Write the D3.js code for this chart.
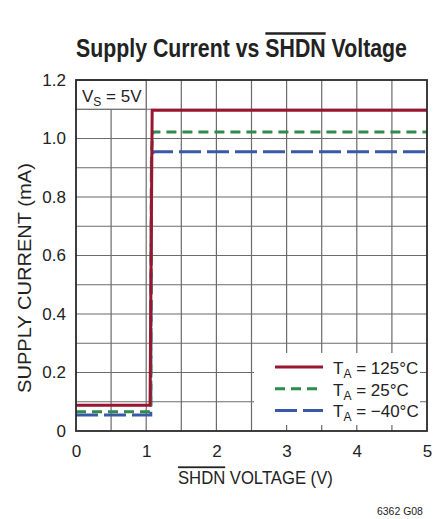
<!DOCTYPE html>
<html>
<head>
<meta charset="utf-8">
<script src="https://cdn.jsdelivr.net/npm/d3@7"></script>
<style>
  body { margin: 0; background: #fff; }
  svg text { font-family: "Liberation Sans", Arial, sans-serif; fill: #222; }
  .over { text-decoration: overline; }
</style>
</head>
<body>
<svg id="chart" width="438" height="519"></svg>
<script>
// data
var hotVolts  = [0, 1.055, 1.085, 5];
var hotAmps   = [0.088, 0.088, 1.097, 1.097];
var roomVolts = [0, 1.065, 1.075, 1.095, 5];
var roomAmps  = [0.066, 0.066, 0.95, 1.022, 1.022];
var coldVolts = [0, 1.065, 1.075, 1.1, 5];
var coldAmps  = [0.055, 0.055, 0.93, 0.955, 0.955];
var seriesNames = ["125°C", "25°C", "\u221240°C"];
var xTicks = [0, 1, 2, 3, 4, 5];
var yTicks = [0, 0.2, 0.4, 0.6, 0.8, 1.0, 1.2];

var svg = d3.select("#chart"),
    margin = {top: 80, right: 11, bottom: 88, left: 76},
    width = 438 - margin.left - margin.right,
    height = 519 - margin.top - margin.bottom,
    g = svg.append("g").attr("transform", "translate(" + margin.left + "," + margin.top + ")");

var x = d3.scaleLinear().domain([0, 5]).range([0, width]);
var y = d3.scaleLinear().domain([0, 1.2]).range([height, 0]);

// grid
g.append("g").selectAll("line").data(d3.range(1, 10).map(function(i) { return i * 0.5; }))
  .enter().append("line")
    .attr("x1", function(d) { return x(d); }).attr("x2", function(d) { return x(d); })
    .attr("y1", 0).attr("y2", height)
    .attr("stroke", "#6b6b6b").attr("stroke-width", 1.2);
g.append("g").selectAll("line").data(d3.range(1, 12).map(function(i) { return i * 0.1; }))
  .enter().append("line")
    .attr("y1", function(d) { return y(d); }).attr("y2", function(d) { return y(d); })
    .attr("x1", 0).attr("x2", width)
    .attr("stroke", "#6b6b6b").attr("stroke-width", 1.2);

// axes (labels only, grid does the rest)
var xAxis = g.append("g")
    .attr("transform", "translate(0," + height + ")")
    .call(d3.axisBottom(x).tickValues(xTicks).tickSize(0).tickPadding(14).tickFormat(d3.format("d")));
var yAxis = g.append("g")
    .call(d3.axisLeft(y).tickValues(yTicks).tickSize(0).tickPadding(10)
      .tickFormat(function(d) { return d === 0 ? "0" : d3.format(".1f")(d); }));
[xAxis, yAxis].forEach(function(a) {
  a.select(".domain").remove();
  a.selectAll("text").style("font-size", "17px").style("font-family", "'Liberation Sans', Arial, sans-serif").attr("fill", "#222");
});

// V_S box
g.append("rect").attr("x", 0).attr("y", 0).attr("width", x(1)).attr("height", y(1.1))
  .attr("fill", "#fff").attr("stroke", "#6b6b6b").attr("stroke-width", 1.2);
var vs = g.append("text").attr("x", 6).attr("y", 22).style("font-size", "17px");
vs.append("tspan").text("V");
vs.append("tspan").attr("dy", 4).style("font-size", "12px").text("S");
vs.append("tspan").attr("dy", -4).text(" = 5V");

// curves
var line = d3.line()
  .x(function(d) { return x(d[0]); })
  .y(function(d) { return y(d[1]); });

var series = [
  {v: hotVolts, a: hotAmps, color: "#9a1630", dash: null},
  {v: roomVolts, a: roomAmps, color: "#2f8a4c", dash: "10,6"},
  {v: coldVolts, a: coldAmps, color: "#3a58a8", dash: "22,6"}
];
series.slice().reverse().forEach(function(s) {
  g.append("path")
    .datum(d3.zip(s.v, s.a))
    .attr("fill", "none")
    .attr("stroke", s.color)
    .attr("stroke-width", 3)
    .attr("stroke-dasharray", s.dash)
    .attr("d", line);
});

// legend
var lg = g.append("g").attr("transform", "translate(178,273)");
lg.append("rect").attr("x", 0).attr("y", 0).attr("width", 166).attr("height", 72).attr("fill", "#fff");
series.forEach(function(s, i) {
  var yy = 14 + i * 21.7;
  lg.append("line").attr("x1", 21).attr("x2", 69).attr("y1", yy).attr("y2", yy)
    .attr("stroke", s.color).attr("stroke-width", 3).attr("stroke-dasharray", s.dash);
  var t = lg.append("text").attr("x", 79).attr("y", yy + 7).style("font-size", "17px");
  t.append("tspan").text("T");
  t.append("tspan").attr("dy", 4).style("font-size", "12px").text("A");
  t.append("tspan").attr("dy", -4).text(" = " + seriesNames[i]);
});

// frame
g.append("rect").attr("width", width).attr("height", height)
  .attr("fill", "none").attr("stroke", "#2a2a2a").attr("stroke-width", 1.8);

// squeeze a text horizontally so it spans the given width (condensed look)
var fitText = function(px, py, w, rot) {
  var wrap = svg.append("g");
  var t = wrap.append("text");
  return {
    text: t,
    done: function() {
      var sx = w / t.node().getComputedTextLength();
      wrap.attr("transform", "translate(" + px + "," + py + ")" + (rot ? " rotate(" + rot + ")" : "") + " scale(" + sx + ",1)");
    }
  };
};

var title = fitText(76, 57, 331, 0);
title.text.style("font-size", "25px").style("font-weight", "bold");
title.text.append("tspan").text("Supply Current vs ");
title.text.append("tspan").attr("class", "over").text("SHDN");
title.text.append("tspan").text(" Voltage");
title.done();

var xTitle = fitText(178, 484, 155, 0);
xTitle.text.style("font-size", "18px");
xTitle.text.append("tspan").attr("class", "over").text("SHDN");
xTitle.text.append("tspan").text(" VOLTAGE (V)");
xTitle.done();

var yTitle = fitText(31, 393, 230, -90);
yTitle.text.style("font-size", "18px").text("SUPPLY CURRENT (mA)");
yTitle.done();

var note = fitText(377, 515, 46, 0);
note.text.style("font-size", "10px").text("6362 G08");
note.done();
</script>
</body>
</html>
